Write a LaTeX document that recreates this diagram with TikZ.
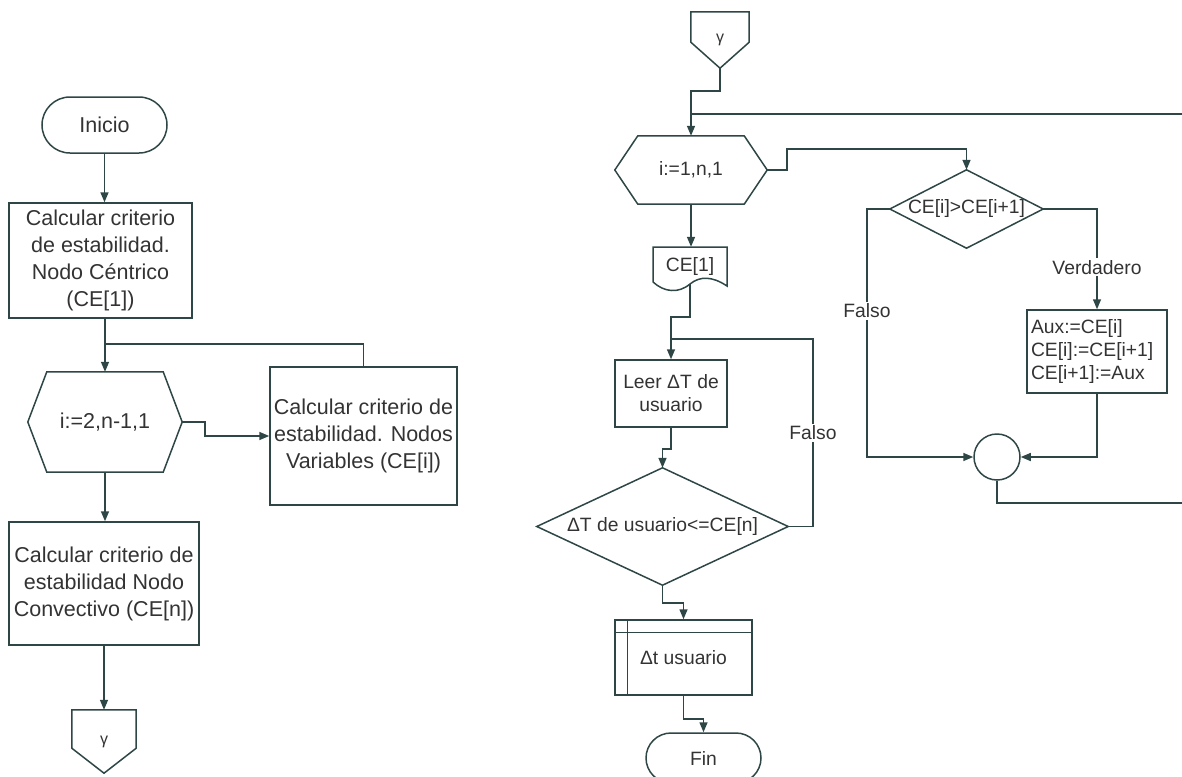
\documentclass[tikz,border=0pt]{standalone}
\usepackage{fontspec}
\setmainfont{Liberation Sans}
\usetikzlibrary{arrows.meta,shapes.misc,calc}
\definecolor{lc}{HTML}{2E4646}
\definecolor{tc}{HTML}{333333}
\begin{document}
\begin{tikzpicture}[x=1pt,y=-1pt,
  ln/.style={draw=lc, line width=1.5pt},
  arr/.style={ln, -{Triangle[length=10pt,width=8pt]}},
  fl/.style={font=\fontsize{21.5}{27}\selectfont, text=tc},
  fr/.style={font=\fontsize{19.3}{23}\selectfont, text=tc},
  fg/.style={font=\fontsize{16}{18}\selectfont, text=tc},
  boxl/.style={ln, rectangle, fl, align=center, inner sep=2pt},
  boxr/.style={ln, rectangle, fr, align=center, inner sep=2pt},
  ghost/.style={rectangle, inner sep=0pt, align=center},
  term/.style={ln, rounded rectangle, inner sep=0pt},
  lab/.style={fill=white, inner sep=2pt, fr},
]
\useasboundingbox (0,0) rectangle (1182,776);
\clip (0,0) rectangle (1182,776);

% ---------------- left column ----------------
\node[term, fl, minimum width=125pt, minimum height=56pt] (ini) at (104.5,125) {Inicio};
\node[boxl, minimum width=183pt, minimum height=115pt] (b1) at (100.5,260.5)
  {Calcular criterio\\de estabilidad.\\Nodo Céntrico\\(CE[1])};
\node[ghost, fl, minimum width=154pt, minimum height=100pt] (h1) at (105,422) {i:=2,n-1,1};
\draw[ln] (h1.west) -- ([xshift=19pt]h1.north west) -- ([xshift=-19pt]h1.north east) -- (h1.east)
  -- ([xshift=-19pt]h1.south east) -- ([xshift=19pt]h1.south west) -- cycle;
\node[boxl, minimum width=187pt, minimum height=138pt] (b2) at (363.5,436)
  {Calcular criterio de\\estabilidad. Nodos\\Variables (CE[i])};
\node[boxl, minimum width=190pt, minimum height=123pt] (b3) at (104,583.5)
  {Calcular criterio de\\estabilidad Nodo\\Convectivo (CE[n])};
\node[ghost, fg, minimum width=64pt, minimum height=63pt] (c1) at (104,741.5) {γ};
\draw[ln] (c1.north west) -- (c1.north east) -- ([yshift=25pt]c1.south east) -- (c1.south)
  -- ([yshift=25pt]c1.south west) -- cycle;

\draw[arr] (ini.south) -- (ini.south |- b1.north);
\draw[arr] (h1.north |- b1.south) -- (h1.north);
\coordinate (j1) at (h1.north |- 0,344);
\draw[ln] (b2.north) |- (j1);
\draw[arr] (h1.east) -- ++(23,0) |- (b2.west);
\draw[arr] (h1.south) -- (h1.south |- b3.north);
\draw[arr] (b3.south) -- (c1.north);

% ---------------- right column ----------------
\node[ghost, fg, minimum width=58pt, minimum height=56pt] (c2) at (720,40) {γ};
\draw[ln] (c2.north west) -- (c2.north east) -- ([yshift=26pt]c2.south east) -- (c2.south)
  -- ([yshift=26pt]c2.south west) -- cycle;

\node[ghost, fr, minimum width=152pt, minimum height=68pt] (h2) at (691,170) {i:=1,n,1};
\draw[ln] (h2.west) -- ([xshift=23pt]h2.north west) -- ([xshift=-23pt]h2.north east) -- (h2.east)
  -- ([xshift=-23pt]h2.south east) -- ([xshift=23pt]h2.south west) -- cycle;

\node[ghost, fr, minimum width=74pt, minimum height=40pt] (doc) at (690,267) {CE[1]};
\begin{scope}[shift={(doc.center)}]
  \draw[ln] (-37,15) -- (-37,-20) -- (37,-20) -- (37,19)
     .. controls (22,9) and (10,9) .. (0,17) .. controls (-12,27) and (-26,25) .. (-37,15);
  \coordinate (docb) at (0,17);
\end{scope}

\node[boxr, minimum width=112pt, minimum height=67pt] (leer) at (671,393.5) {Leer ΔT de\\usuario};
\node[ghost, fr, minimum width=251pt, minimum height=117pt] (d2) at (662.5,526.5) {ΔT de usuario<=CE[n]};
\draw[ln] (d2.north) -- (d2.east) -- (d2.south) -- (d2.west) -- cycle;

\node[boxr, minimum width=137pt, minimum height=75pt] (sub) at (683.5,657.5) {Δt usuario};
\draw[ln] ([xshift=13pt]sub.north west) -- ([xshift=13pt]sub.south west);
\draw[ln] ([yshift=-13pt]sub.north west) -- ([yshift=-13pt]sub.north east);

\node[term, fr, minimum width=115pt, minimum height=50pt] (fin) at (703.5,758) {Fin};

\node[ghost, fr, minimum width=153pt, minimum height=78pt] (d1) at (966.5,209) {CE[i]>CE[i+1]};
\draw[ln] (d1.north) -- (d1.east) -- (d1.south) -- (d1.west) -- cycle;

\node[ln, rectangle, fr, minimum width=140pt, minimum height=83pt, text width=132pt,
      align=left, inner sep=4pt] (aux) at (1097,351.5) {Aux:=CE[i]\\CE[i]:=CE[i+1]\\CE[i+1]:=Aux};

\node[ln, circle, minimum size=46pt, inner sep=0pt] (circ) at (997,457) {};

% connectors right
\draw[arr] (c2.south) -- ++(0,23) -| (h2.north);
\coordinate (j2) at (h2.north |- 0,114);
\coordinate (e1) at (1190,503);
\draw[ln] (circ.south) |- (e1) |- (j2);
\draw[arr] (h2.east) -- ++(20,0) |- (d1.north |- 0,149) -- (d1.north);
\draw[arr] (d1.east) -| node[lab, pos=0.79] (lv) {Verdadero} (aux.north);
\coordinate (k1) at (867,209);
\draw[arr] (d1.west) -- (k1) -- node[lab, pos=0.41] (lf1) {Falso} (k1 |- circ.west) -- (circ.west);
\draw[arr] (aux.south) |- (circ.east);

\draw[arr] (h2.south) -- (h2.south |- doc.north);
\draw[arr] (docb) -- (docb |- 0,317) -| (leer.north);
\coordinate (k2) at (813,339);
\draw[ln] (d2.east) -| node[lab, pos=0.75] (lf2) {Falso} (k2) -- (leer.north |- k2);
\draw[arr] (leer.south) -- ++(0,21) -| (d2.north);
\draw[arr] (d2.south) -- ++(0,18) -| (sub.north);
\draw[arr] (sub.south) -- ++(0,23) -| (fin.north);
\end{tikzpicture}
\end{document}
